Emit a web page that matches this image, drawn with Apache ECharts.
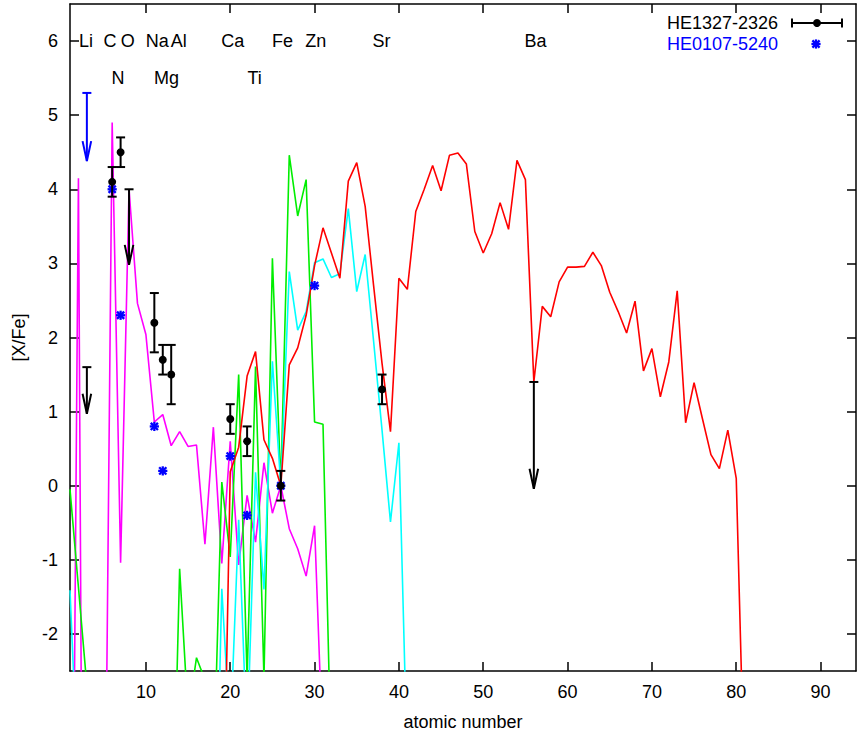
<!DOCTYPE html>
<html>
<head>
<meta charset="utf-8">
<script src="https://cdn.jsdelivr.net/npm/echarts@6/dist/echarts.min.js"></script>
<style>
html,body{margin:0;padding:0;background:#fff;}
#chart{width:857px;height:738px;}
</style>
</head>
<body>
<div id="chart"></div>
<script>
// ---------- data ----------
// model curves: values start at the given atomic number, null = no value
const magentaStartZ = 1;
const magentaVals = [-10.3, 4.15, -16.6, null, -6.85, 4.9, -1.04, 4.0, 2.46, 2.04,
  0.86, 0.96, 0.54, 0.73, 0.53, 0.55, -0.79, 0.79, -1.05, 0.6,
  -1.07, -0.13, -0.76, 0.31, -0.37, 0.0, -0.58, -0.85, -1.22, -0.54, -3.65];

const greenStartZ = 1;
const greenVals = [-0.05, -1.37, -2.7, null, null, null, null, null, null, null,
  null, null, -5.7, -1.12, -3.1, -2.32, -2.62, -4.0, 0.05, -0.96,
  1.5, -2.6, 1.61, -2.6, 3.07, 0.0, 4.46, 3.64, 4.13, 0.86, 0.83, -3.9];

const cyanStartZ = 1;
const cyanVals = [-1.41, -4.1, null, null, null, null, null, null, null, null,
  null, null, null, null, null, null, null, -6.2, -1.39, -3.4,
  -0.46, -3.5, 0.18, -1.4, 1.68, 0.0, 2.89, 2.1, 2.35, 3.01,
  3.06, 2.81, 2.86, 3.74, 2.62, 3.12, 1.95, 0.75, -0.49, 0.58, -3.8];

const redStartZ = 19;
const redVals = [-5.9, 0.19, 0.52, 1.48, 1.81, 0.62, 0.37, 0.0, 1.63, 1.86,
  2.3, 2.97, 3.48, 3.14, 2.8, 4.11, 4.36, 3.77, 2.7, 1.65,
  0.73, 2.8, 2.65, 3.7, 4.0, 4.32, 3.98, 4.46, 4.49, 4.34,
  3.43, 3.14, 3.40, 3.82, 3.46, 4.39, 4.13, 1.40, 2.42, 2.28,
  2.75, 2.95, 2.95, 2.96, 3.15, 2.97, 2.61, 2.35, 2.06, 2.49,
  1.55, 1.85, 1.20, 1.67, 2.63, 0.85, 1.39, 0.90, 0.42, 0.23,
  0.75, 0.10, -4.2];

// HE1327-2326 measurements: Z, value, lower, upper
const he1327Z   = [6, 7, 11, 12, 13, 20, 22, 26, 38];
const he1327Val = [4.1, 4.5, 2.2, 1.7, 1.5, 0.9, 0.6, 0.0, 1.3];
const he1327Lo  = [3.9, 4.3, 1.8, 1.5, 1.1, 0.7, 0.4, -0.2, 1.1];
const he1327Hi  = [4.3, 4.7, 2.6, 1.9, 1.9, 1.1, 0.8, 0.2, 1.5];
// HE1327-2326 upper limits: Z, limit, arrow tip
const he1327LimZ   = [3, 8, 56];
const he1327LimTop = [1.6, 4.0, 1.4];
const he1327LimTip = [0.97, 2.98, -0.04];

// HE0107-5240 measurements
const he0107Z   = [6, 7, 11, 12, 20, 22, 26, 30];
const he0107Val = [4.0, 2.3, 0.8, 0.2, 0.4, -0.4, 0.0, 2.7];
// HE0107-5240 upper limits
const he0107LimZ   = [3];
const he0107LimTop = [5.3];
const he0107LimTip = [4.38];

// element labels
const elemRow1 = ['Li', 'C', 'O', 'Na', 'Al', 'Ca', 'Fe', 'Zn', 'Sr', 'Ba'];
const elemRow1X = [2.9, 5.75, 7.85, 11.35, 13.9, 20.3, 26.2, 30.15, 37.95, 56.2];
const elemRow1Y = 6.0;
const elemRow2 = ['N', 'Mg', 'Ti'];
const elemRow2X = [6.7, 12.45, 22.9];
const elemRow2Y = 5.5;

const xTicks = [10, 20, 30, 40, 50, 60, 70, 80, 90];
const yTicks = [-2, -1, 0, 1, 2, 3, 4, 5, 6];

// ---------- chart ----------
const FONT = '"Liberation Sans", Arial, Helvetica, sans-serif';
const FS = 18;

function pairs(start, vals) {
  return vals.map((v, i) => [start + i, v === null ? '-' : v]);
}

function renderErr(params, api) {
  const x = api.value(0);
  const c = api.coord([x, api.value(1)]);
  const lo = api.coord([x, api.value(2)]);
  const hi = api.coord([x, api.value(3)]);
  const w = 4.5;
  const st = {stroke: '#000', lineWidth: 2};
  return {type: 'group', children: [
    {type: 'line', shape: {x1: c[0], y1: lo[1], x2: c[0], y2: hi[1]}, style: st},
    {type: 'line', shape: {x1: c[0] - w, y1: lo[1], x2: c[0] + w, y2: lo[1]}, style: st},
    {type: 'line', shape: {x1: c[0] - w, y1: hi[1], x2: c[0] + w, y2: hi[1]}, style: st},
    {type: 'circle', shape: {cx: c[0], cy: c[1], r: 4}, style: {fill: '#000'}}
  ]};
}

function makeArrowRenderer(color) {
  return function (params, api) {
    const x = api.value(0);
    const t = api.coord([x, api.value(1)]);
    const b = api.coord([x, api.value(2)]);
    const w = 4.5, hl = 20, hw = 4.3;
    const st = {stroke: color, lineWidth: 2};
    return {type: 'group', children: [
      {type: 'line', shape: {x1: t[0], y1: t[1], x2: b[0], y2: b[1]}, style: st},
      {type: 'line', shape: {x1: t[0] - w, y1: t[1], x2: t[0] + w, y2: t[1]}, style: st},
      {type: 'polyline', shape: {points: [[b[0] - hw, b[1] - hl], [b[0], b[1]], [b[0] + hw, b[1] - hl]]}, style: {stroke: color, lineWidth: 2, fill: null}}
    ]};
  };
}

function starChildren(s, d, lw) {
  const st = {stroke: '#0000ff', lineWidth: lw};
  return [
    {type: 'line', shape: {x1: -s, y1: 0, x2: s, y2: 0}, style: st},
    {type: 'line', shape: {x1: 0, y1: -s, x2: 0, y2: s}, style: st},
    {type: 'line', shape: {x1: -d, y1: -d, x2: d, y2: d}, style: st},
    {type: 'line', shape: {x1: -d, y1: d, x2: d, y2: -d}, style: st}
  ];
}

function renderStar(params, api) {
  const c = api.coord([api.value(0), api.value(1)]);
  return {type: 'group', x: c[0], y: c[1], children: starChildren(4.6, 3.6, 2.3)};
}

const labelTexts = {row1: elemRow1, row2: elemRow2};
function renderLabel(params, api) {
  const c = api.coord([api.value(0), api.value(1)]);
  return {type: 'text', x: c[0], y: c[1], style: {
    text: labelTexts[params.seriesName][params.dataIndex],
    fill: '#000', font: FS + 'px ' + FONT, align: 'center', verticalAlign: 'middle'}};
}

function lineSeries(name, start, vals, color) {
  return {
    name: name, type: 'line', data: pairs(start, vals), symbol: 'none',
    clip: true, connectNulls: false, animation: false,
    lineStyle: {color: color, width: 1.6}, itemStyle: {color: color}, z: 2
  };
}

const axisLine = {show: true, onZero: false, lineStyle: {color: '#000', width: 1.5}};
const tickStyle = {color: '#000', width: 1.5};

const chart = echarts.init(document.getElementById('chart'), null, {renderer: 'svg'});
chart.setOption({
  animation: false,
  backgroundColor: '#fff',
  textStyle: {fontFamily: FONT},
  grid: {left: 70, right: 1, top: 4, bottom: 67, containLabel: false},
  xAxis: [{
    type: 'value', min: 1, max: 94.2, position: 'bottom',
    axisLine: axisLine,
    axisTick: {show: true, inside: true, length: 9, customValues: xTicks, lineStyle: tickStyle},
    axisLabel: {show: true, customValues: xTicks, color: '#000', fontSize: FS, fontFamily: FONT, margin: 12},
    splitLine: {show: false},
    name: 'atomic number', nameLocation: 'middle', nameGap: 42,
    nameTextStyle: {color: '#000', fontSize: FS, fontFamily: FONT}
  }, {
    type: 'value', min: 1, max: 94.2, position: 'top',
    axisLine: axisLine,
    axisTick: {show: true, inside: true, length: 9, customValues: xTicks, lineStyle: tickStyle},
    axisLabel: {show: false}, splitLine: {show: false}
  }],
  yAxis: [{
    type: 'value', min: -2.5, max: 6.5, position: 'left',
    axisLine: axisLine,
    axisTick: {show: true, inside: true, length: 9, customValues: yTicks, lineStyle: tickStyle},
    axisLabel: {show: true, customValues: yTicks, color: '#000', fontSize: FS, fontFamily: FONT, margin: 12},
    splitLine: {show: false},
    name: '[X/Fe]', nameLocation: 'middle', nameGap: 42, nameRotate: 90,
    nameTextStyle: {color: '#000', fontSize: FS, fontFamily: FONT}
  }, {
    type: 'value', min: -2.5, max: 6.5, position: 'right',
    axisLine: axisLine,
    axisTick: {show: true, inside: true, length: 9, customValues: yTicks, lineStyle: tickStyle},
    axisLabel: {show: false}, splitLine: {show: false}
  }],
  series: [
    lineSeries('magenta', magentaStartZ, magentaVals, '#ff00ff'),
    lineSeries('green', greenStartZ, greenVals, '#00ee00'),
    lineSeries('cyan', cyanStartZ, cyanVals, '#00ffff'),
    lineSeries('red', redStartZ, redVals, '#ff0000'),
    {
      name: 'HE0107-5240', type: 'custom', renderItem: renderStar, z: 5,
      data: he0107Z.map((z, i) => [z, he0107Val[i]]), encode: {x: 0, y: 1}
    },
    {
      name: 'HE0107-5240 limits', type: 'custom', renderItem: makeArrowRenderer('#0000ff'), z: 5,
      data: he0107LimZ.map((z, i) => [z, he0107LimTop[i], he0107LimTip[i]]), encode: {x: 0, y: [1, 2]}
    },
    {
      name: 'HE1327-2326', type: 'custom', renderItem: renderErr, z: 6,
      data: he1327Z.map((z, i) => [z, he1327Val[i], he1327Lo[i], he1327Hi[i]]), encode: {x: 0, y: [1, 2, 3]}
    },
    {
      name: 'HE1327-2326 limits', type: 'custom', renderItem: makeArrowRenderer('#000000'), z: 6,
      data: he1327LimZ.map((z, i) => [z, he1327LimTop[i], he1327LimTip[i]]), encode: {x: 0, y: [1, 2]}
    },
    {
      name: 'row1', type: 'custom', renderItem: renderLabel, z: 7,
      data: elemRow1X.map(x => [x, elemRow1Y]), encode: {x: 0, y: 1}
    },
    {
      name: 'row2', type: 'custom', renderItem: renderLabel, z: 7,
      data: elemRow2X.map(x => [x, elemRow2Y]), encode: {x: 0, y: 1}
    }
  ],
  graphic: [
    {type: 'text', x: 778, y: 23, z: 10, style: {text: 'HE1327-2326', fill: '#000', font: FS + 'px ' + FONT, align: 'right', verticalAlign: 'middle'}},
    {type: 'line', z: 10, shape: {x1: 792, y1: 23, x2: 842, y2: 23}, style: {stroke: '#000', lineWidth: 2}},
    {type: 'line', z: 10, shape: {x1: 792, y1: 18.5, x2: 792, y2: 27.5}, style: {stroke: '#000', lineWidth: 2}},
    {type: 'line', z: 10, shape: {x1: 842, y1: 18.5, x2: 842, y2: 27.5}, style: {stroke: '#000', lineWidth: 2}},
    {type: 'circle', z: 10, shape: {cx: 817, cy: 23, r: 4}, style: {fill: '#000'}},
    {type: 'text', x: 778, y: 44, z: 10, style: {text: 'HE0107-5240', fill: '#0000ff', font: FS + 'px ' + FONT, align: 'right', verticalAlign: 'middle'}},
    {type: 'group', x: 816, y: 44, z: 10, children: starChildren(4.6, 3.6, 2.3)}
  ]
});
</script>
</body>
</html>
